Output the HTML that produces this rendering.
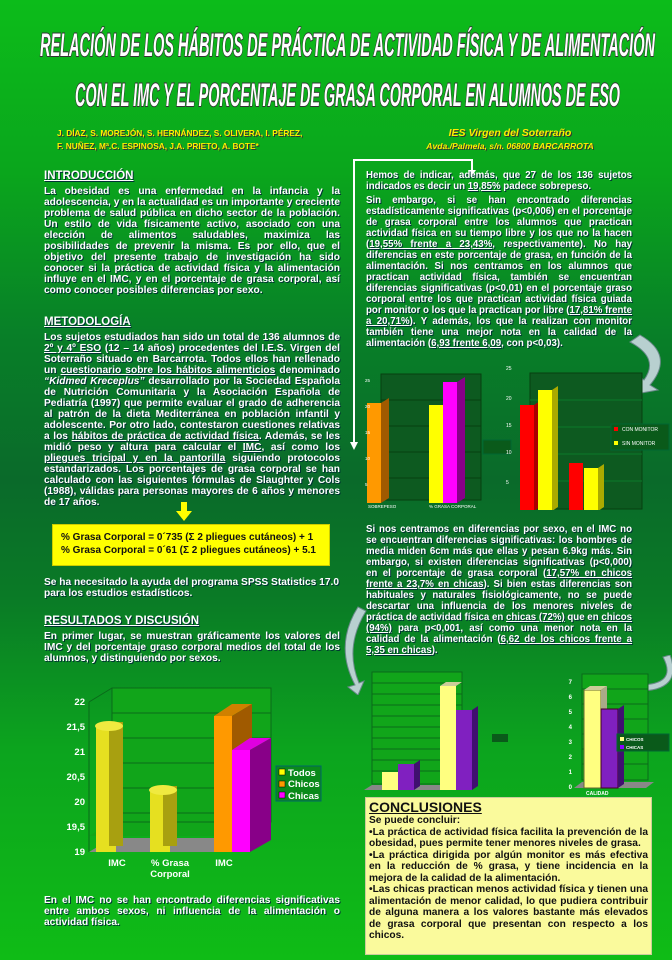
<!DOCTYPE html>
<html><head><meta charset="utf-8"><style>
*{margin:0;padding:0;box-sizing:border-box}
body{width:672px;height:960px;overflow:hidden;font-family:"Liberation Sans",sans-serif;
background:linear-gradient(180deg,#0cbc1a 0%,#0aa61c 18%,#087f28 35%,#0a6a2a 50%,#0a7a26 62%,#0ca41e 78%,#0fbc16 100%);position:relative;color:#fff}
.t{position:absolute;font-weight:bold;font-size:10.2px;line-height:11px;text-align:justify;text-shadow:1px 1px 0 #033;}
.r{font-size:9.7px}
.h{position:absolute;font-weight:bold;font-size:11.5px;text-decoration:underline;text-shadow:1px 1px 0 #033;}
u{text-decoration:underline}
.y{color:#ffee00;font-weight:bold;font-style:italic;position:absolute;font-size:8.6px;line-height:13px;white-space:nowrap;text-shadow:1px 1px 0 #333}
svg{position:absolute}
</style></head><body>
<svg style="left:0;top:0" width="672" height="120" font-family="Liberation Sans" font-weight="bold" font-style="italic">
<g fill="#fff" stroke="#333" stroke-width="2" paint-order="stroke" font-size="32">
<text x="40" y="56" textLength="615" lengthAdjust="spacingAndGlyphs">RELACIÓN DE LOS HÁBITOS DE PRÁCTICA DE ACTIVIDAD FÍSICA Y DE ALIMENTACIÓN</text>
<text x="75" y="106" textLength="545" lengthAdjust="spacingAndGlyphs">CON EL IMC Y EL PORCENTAJE DE GRASA CORPORAL EN ALUMNOS DE ESO</text>
</g></svg>
<div class="y" style="left:57px;top:127px;font-style:normal;font-size:8.3px">J. DÍAZ, S. MOREJÓN, S. HERNÁNDEZ, S. OLIVERA, I. PÉREZ,<br>F. NUÑEZ, Mª.C. ESPINOSA, J.A. PRIETO, A. BOTE*</div>
<div class="y" style="left:420px;top:127px;text-align:center;width:180px"><span style="font-size:10.5px">IES Virgen del Soterraño</span><br>Avda./Palmela, s/n. 06800 BARCARROTA</div>

<div class="h" style="left:44px;top:170px">INTRODUCCIÓN</div>
<div class="t" style="left:44px;top:186px;width:296px">La obesidad es una enfermedad en la infancia y la adolescencia, y en la actualidad es un importante y creciente problema de salud pública en dicho sector de la población. Un estilo de vida físicamente activo, asociado con una elección de alimentos saludables, maximiza las posibilidades de prevenir la misma. Es por ello, que el objetivo del presente trabajo de investigación ha sido conocer si la práctica de actividad física y la alimentación influye en el IMC, y en el porcentaje de grasa corporal, así como conocer posibles diferencias por sexo.</div>

<div class="h" style="left:44px;top:316px">METODOLOGÍA</div>
<div class="t" style="left:44px;top:332px;width:296px">Los sujetos estudiados han sido un total de 136 alumnos de <u>2º y 4º ESO</u> (12 – 14 años) procedentes del I.E.S. Virgen del Soterraño situado en Barcarrota. Todos ellos han rellenado un <u>cuestionario sobre los hábitos alimenticios</u> denominado <i>“Kidmed Kreceplus”</i> desarrollado por la Sociedad Española de Nutrición Comunitaria y la Asociación Española de Pediatría (1997) que permite evaluar el grado de adherencia al patrón de la dieta Mediterránea en población infantil y adolescente. Por otro lado, contestaron cuestiones relativas a los <u>hábitos de práctica de actividad física</u>. Además, se les midió peso y altura para calcular el <u>IMC</u>, así como los <u>pliegues tricipal y en la pantorilla</u> siguiendo protocolos estandarizados. Los porcentajes de grasa corporal se han calculado con las siguientes fórmulas de Slaughter y Cols (1988), válidas para personas mayores de 6 años y menores de 17 años.</div>
<svg style="left:176px;top:502px" width="16" height="20"><rect x="5" y="0" width="6" height="10" fill="#ff0"/><polygon points="0,9 16,9 8,19" fill="#ff0"/></svg>
<div style="position:absolute;left:52px;top:524px;width:278px;height:42px;background:#ffff00;border:1px solid #cc0;color:#111;font-weight:bold;font-size:10px;line-height:13px;padding:6px 0 0 8px">% Grasa Corporal = 0´735 (Σ 2 pliegues cutáneos) + 1<br>% Grasa Corporal = 0´61 (Σ 2 pliegues cutáneos) + 5.1</div>
<div class="t" style="left:44px;top:577px;width:296px;text-align:left">Se ha necesitado la ayuda del programa SPSS Statistics 17.0 para los estudios estadísticos.</div>
<div class="h" style="left:44px;top:615px">RESULTADOS Y DISCUSIÓN</div>
<div class="t" style="left:44px;top:631px;width:296px">En primer lugar, se muestran gráficamente los valores del IMC y del porcentaje graso corporal medios del total de los alumnos, y distinguiendo por sexos.</div>

<svg style="left:40px;top:670px" width="300" height="210" font-family="Liberation Sans" font-weight="bold" font-size="9.5">
<polygon points="72,18 231,18 231,152 208,166 49,166 72,152" fill="#11a51a" />
<polygon points="72,18 231,18 231,152 72,152" fill="none" stroke="#0a6a1a"/>
<g stroke="#0a6a1a"><line x1="49" y1="32" x2="72" y2="18"/><line x1="49" y1="32" x2="49" y2="182"/>
<line x1="72" y1="43" x2="231" y2="43"/><line x1="72" y1="68" x2="231" y2="68"/><line x1="72" y1="93" x2="231" y2="93"/><line x1="72" y1="118" x2="231" y2="118"/><line x1="72" y1="143" x2="231" y2="143"/></g>
<polygon points="49,182 72,168 231,168 208,182" fill="#888"/>
<g fill="#fff" text-anchor="end"><text x="45" y="35">22</text><text x="45" y="60">21,5</text><text x="45" y="85">21</text><text x="45" y="110">20,5</text><text x="45" y="135">20</text><text x="45" y="160">19,5</text><text x="45" y="185">19</text></g>
<rect x="56" y="58" width="20" height="124" fill="#e6e020"/><rect x="69" y="52" width="14" height="124" fill="#a8a010"/><ellipse cx="69" cy="56" rx="14" ry="5" fill="#f0ea40"/>
<rect x="110" y="122" width="20" height="60" fill="#e6e020"/><rect x="123" y="116" width="14" height="60" fill="#a8a010"/><ellipse cx="123" cy="120" rx="14" ry="5" fill="#f0ea40"/>
<polygon points="174,46 192,34 212,34 192,46" fill="#d08000"/><polygon points="192,46 212,34 212,70 192,82" fill="#a05a00"/><rect x="174" y="46" width="18" height="136" fill="#ff9900"/>
<polygon points="192,80 210,68 231,68 210,80" fill="#e000e0"/><polygon points="210,80 231,68 231,170 210,182" fill="#880088"/><rect x="192" y="80" width="18" height="102" fill="#ff00ff"/>
<g fill="#fff" text-anchor="middle"><text x="77" y="196">IMC</text><text x="130" y="196">% Grasa</text><text x="130" y="207">Corporal</text><text x="184" y="196">IMC</text></g>
<rect x="236" y="96" width="45" height="35" fill="#0a8a1a" stroke="#066"/>
<rect x="239" y="99" width="6" height="6" fill="#ff0" stroke="#000" stroke-width=".5"/><text x="248" y="106" fill="#fff">Todos</text>
<rect x="239" y="111" width="6" height="6" fill="#f90" stroke="#000" stroke-width=".5"/><text x="248" y="117" fill="#fff">Chicos</text>
<rect x="239" y="122" width="6" height="6" fill="#f0f" stroke="#000" stroke-width=".5"/><text x="248" y="129" fill="#fff">Chicas</text>
</svg>
<div class="t" style="left:44px;top:895px;width:296px">En el IMC no se han encontrado diferencias significativas entre ambos sexos, ni influencia de la alimentación o actividad física.</div>

<!-- right column -->
<svg style="left:350px;top:158px" width="20" height="300"><polyline points="4,290 4,2 122,2" fill="none" stroke="#fff" stroke-width="2"/><polygon points="0,284 8,284 4,292" fill="#fff"/></svg>
<svg style="left:350px;top:158px" width="130" height="20"><polyline points="4,2 122,2 122,14" fill="none" stroke="#fff" stroke-width="2"/><polygon points="118,12 126,12 122,18" fill="#fff"/></svg>
<div class="t r" style="left:366px;top:170px;width:266px">Hemos de indicar, además, que 27 de los 136 sujetos indicados es decir un <u>19,85%</u> padece sobrepeso.</div>
<div class="t r" style="left:366px;top:195px;width:266px">Sin embargo, si se han encontrado diferencias estadísticamente significativas (p&lt;0,006) en el porcentaje de grasa corporal entre los alumnos que practican actividad física en su tiempo libre y los que no la hacen (<u>19,55% frente a 23,43%</u>, respectivamente). No hay diferencias en este porcentaje de grasa, en función de la alimentación. Si nos centramos en los alumnos que practican actividad física, también se encuentran diferencias significativas (p&lt;0,01) en el porcentaje graso corporal entre los que practican actividad física guiada por monitor o los que la practican por libre (<u>17,81% frente a 20,71%</u>). Y además, los que la realizan con monitor también tiene una mejor nota en la calidad de la alimentación (<u>6,93 frente 6,09</u>, con p&lt;0,03).</div>
<svg style="left:620px;top:330px" width="52" height="70"><path d="M20,5 Q55,25 30,55 L38,60 L10,65 L18,45 L24,50 Q40,28 10,12 Z" fill="#b8d0d0" stroke="#6a8a8a"/></svg>

<svg style="left:355px;top:360px" width="160" height="150" font-family="Liberation Sans" font-size="4.5" fill="#fff">
<rect x="26" y="14" width="100" height="126" fill="#0d5a20" stroke="#064010"/>
<g stroke="#064010"><line x1="26" y1="40" x2="126" y2="40"/><line x1="26" y1="66" x2="126" y2="66"/><line x1="26" y1="92" x2="126" y2="92"/><line x1="26" y1="118" x2="126" y2="118"/></g>
<rect x="12" y="43" width="14" height="100" fill="#f90"/><polygon points="26,43 34,38 34,138 26,143" fill="#a05a00"/>
<rect x="74" y="45" width="14" height="98" fill="#ff0"/><rect x="88" y="22" width="14" height="121" fill="#f0f"/><polygon points="102,22 110,17 110,138 102,143" fill="#808"/>
<text x="10" y="22">25</text><text x="10" y="48">20</text><text x="10" y="74">15</text><text x="10" y="100">10</text><text x="10" y="126">5</text>
<text x="13" y="148">SOBREPESO</text><text x="74" y="148">% GRASA CORPORAL</text>
<rect x="128" y="80" width="28" height="14" fill="#0a5a1a" stroke="#063"/>
</svg>
<svg style="left:500px;top:360px" width="172" height="150" font-family="Liberation Sans" font-size="5" fill="#fff">
<rect x="30" y="13" width="112" height="136" fill="#0d5a20" stroke="#064010"/>
<g stroke="#0a7a2a"><line x1="30" y1="40" x2="142" y2="40"/><line x1="30" y1="67" x2="142" y2="67"/><line x1="30" y1="94" x2="142" y2="94"/><line x1="30" y1="121" x2="142" y2="121"/></g>
<rect x="20" y="45" width="14" height="106" fill="#f00"/><polygon points="34,45 40,41 40,147 34,151" fill="#a00"/>
<rect x="38" y="30" width="14" height="121" fill="#ff0"/><polygon points="52,30 58,26 58,147 52,151" fill="#aa0"/>
<rect x="69" y="103" width="14" height="48" fill="#f00"/><rect x="84" y="108" width="14" height="43" fill="#ff0"/><polygon points="98,108 104,104 104,147 98,151" fill="#aa0"/>
<text x="6" y="10">25</text><text x="6" y="40">20</text><text x="6" y="67">15</text><text x="6" y="94">10</text><text x="6" y="124">5</text>
<text x="22" y="160">% GRASA</text><text x="22" y="166">CORPORAL</text><text x="72" y="160">CALIDAD</text>
<rect x="111" y="64" width="58" height="26" fill="#0a5a1a" stroke="#063"/>
<rect x="114" y="67" width="4" height="4" fill="#f00"/><text x="122" y="71">CON MONITOR</text><rect x="114" y="81" width="4" height="4" fill="#ff0"/><text x="122" y="85">SIN MONITOR</text>
</svg>

<div class="t r" style="left:366px;top:524px;width:266px">Si nos centramos en diferencias por sexo, en el IMC no se encuentran diferencias significativas: los hombres de media miden 6cm más que ellas y pesan 6.9kg más. Sin embargo, si existen diferencias significativas (p&lt;0,000) en el porcentaje de grasa corporal (<u>17,57% en chicos frente a 23,7% en chicas</u>). Si bien estas diferencias son habituales y naturales fisiológicamente, no se puede descartar una influencia de los menores niveles de práctica de actividad física en <u>chicas (72%)</u> que en <u>chicos (94%)</u> para p&lt;0,001, así como una menor nota en la calidad de la alimentación (<u>6,62 de los chicos frente a 5,35 en chicas</u>).</div>
<svg style="left:340px;top:605px" width="30" height="90"><path d="M18,2 Q-6,40 15,80 L8,82 L18,90 L24,76 L19,78 Q4,42 26,6 Z" fill="#b8d0d0" stroke="#6a8a8a"/></svg>
<svg style="left:618px;top:655px" width="54" height="45"><path d="M45,2 Q60,30 20,30 L22,22 L2,32 L20,42 L20,36 Q65,36 52,0 Z" fill="#b8d0d0" stroke="#6a8a8a"/></svg>

<svg style="left:360px;top:668px" width="150" height="125" font-family="Liberation Sans" font-size="3" fill="#fff">
<rect x="12" y="4" width="90" height="112" fill="#11a51a" stroke="#0a6a1a"/>
<g stroke="#0a6a1a"><line x1="12" y1="15" x2="102" y2="15"/><line x1="12" y1="26" x2="102" y2="26"/><line x1="12" y1="37" x2="102" y2="37"/><line x1="12" y1="48" x2="102" y2="48"/><line x1="12" y1="59" x2="102" y2="59"/><line x1="12" y1="70" x2="102" y2="70"/><line x1="12" y1="81" x2="102" y2="81"/><line x1="12" y1="92" x2="102" y2="92"/><line x1="12" y1="103" x2="102" y2="103"/></g>
<polygon points="4,122 12,117 102,117 94,122" fill="#888"/>
<rect x="22" y="104" width="16" height="18" fill="#ffff80"/><rect x="38" y="96" width="16" height="26" fill="#8020c0"/><polygon points="54,96 60,92 60,118 54,122" fill="#401070"/>
<rect x="80" y="18" width="16" height="104" fill="#ffff80"/><polygon points="80,18 86,14 102,14 96,18" fill="#cc9"/><rect x="96" y="42" width="16" height="80" fill="#8020c0"/><polygon points="112,42 118,38 118,118 112,122" fill="#401070"/>
<rect x="132" y="66" width="16" height="8" fill="#0a5a1a"/>
</svg>
<svg style="left:568px;top:668px" width="104" height="135" font-family="Liberation Sans" font-size="6" font-weight="bold" fill="#fff">
<rect x="14" y="6" width="66" height="106" fill="#11a51a" stroke="#0a6a1a"/>
<g stroke="#0a6a1a"><line x1="14" y1="21" x2="80" y2="21"/><line x1="14" y1="36" x2="80" y2="36"/><line x1="14" y1="51" x2="80" y2="51"/><line x1="14" y1="66" x2="80" y2="66"/><line x1="14" y1="81" x2="80" y2="81"/><line x1="14" y1="96" x2="80" y2="96"/></g>
<polygon points="6,120 14,114 86,114 78,120" fill="#888"/>
<g text-anchor="end"><text x="4" y="16">7</text><text x="4" y="31">6</text><text x="4" y="46">5</text><text x="4" y="61">4</text><text x="4" y="76">3</text><text x="4" y="91">2</text><text x="4" y="106">1</text><text x="4" y="121">0</text></g>
<rect x="16" y="22" width="17" height="98" fill="#ffff80" stroke="#663"/><polygon points="16,22 22,18 39,18 33,22" fill="#cc9"/><polygon points="33,22 39,18 39,116 33,120" fill="#aa8"/>
<rect x="33" y="41" width="17" height="79" fill="#8020c0" stroke="#402"/><polygon points="50,41 56,37 56,116 50,120" fill="#401070"/>
<text x="18" y="127" font-size="5">CALIDAD</text><text x="12" y="133" font-size="5">ALIMENTACION</text>
<rect x="49" y="66" width="52" height="17" fill="#0a5a1a" stroke="#063"/>
<rect x="52" y="69" width="4" height="4" fill="#ff8"/><text x="58" y="73" font-size="4.5">CHICOS</text><rect x="52" y="77" width="4" height="4" fill="#80f"/><text x="58" y="81" font-size="4.5">CHICAS</text>
</svg>

<div style="position:absolute;left:365px;top:797px;width:287px;height:158px;background:#fafa9c;border:1px solid #cc9;color:#111;font-weight:bold;font-size:10.2px;line-height:11.5px;padding:2px 3px 0 3px;text-align:justify">
<div style="font-size:14px;line-height:15px;text-decoration:underline">CONCLUSIONES</div>
Se puede concluir:<br>•La práctica de actividad física facilita la prevención de la obesidad, pues permite tener menores niveles de grasa.<br>•La práctica dirigida por algún monitor es más efectiva en la reducción de % grasa, y tiene incidencia en la mejora de la calidad de la alimentación.<br>•Las chicas practican menos actividad física y tienen una alimentación de menor calidad, lo que pudiera contribuir de alguna manera a los valores bastante más elevados de grasa corporal que presentan con respecto a los chicos.</div>
</body></html>
